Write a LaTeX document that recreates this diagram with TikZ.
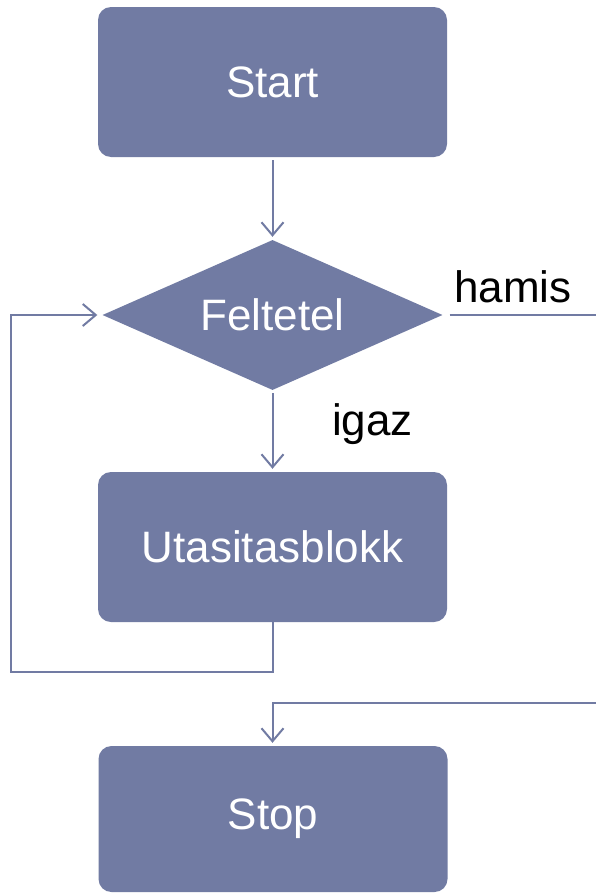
\documentclass[tikz,border=0pt]{standalone}
\usepackage{fontspec}
\setmainfont{Liberation Sans}
\usetikzlibrary{arrows.meta,shapes.geometric}
\definecolor{slate}{RGB}{113,123,163}
\begin{document}
\begin{tikzpicture}[x=1pt,y=-1pt,
  box/.style={rectangle,rounded corners=13pt,fill=slate,text=white,
    minimum width=349pt,minimum height=150pt,inner sep=0pt,
    font=\fontsize{44}{50}\selectfont},
  decision/.style={diamond,aspect=2.267,fill=slate,text=white,inner sep=0pt,
    minimum width=340pt,minimum height=150pt,
    font=\fontsize{44}{50}\selectfont},
  link/.style={draw=slate,line width=2pt},
  flow/.style={link,-{Straight Barb[length=13pt,width=22pt,line width=2pt]}},
  lbl/.style={anchor=base west,inner sep=0pt,text=black,
    font=\fontsize{44}{50}\selectfont}]
  \clip (0,0) rectangle (596,894);
  \fill[white] (0,0) rectangle (596,894);

  % blocks of the flow chart
  \node[box] (start) at (272.5,82) {Start};
  \node[decision] (cond) at (272.5,315) {Feltetel};
  \node[box] (body) at (272.5,547) {Utasitasblokk};
  \node[box,minimum height=146pt] (stop) at (273,819) {Stop};

  % labels of the branches
  \node[lbl] (false) at (454,302) {hamis};
  \node[lbl] (true) at (332,435) {igaz};

  % turning points of the connectors
  \coordinate (loopA) at (272.5,672);
  \coordinate (loopB) at (11,672);
  \coordinate (loopC) at (11,315);
  \coordinate (outA) at (600,315);
  \coordinate (outB) at (600,703);
  \coordinate (outC) at (272.5,703);

  % connectors
  \draw[flow,shorten <=3pt,shorten >=3pt] (start.south) -- (cond.north);
  \draw[flow,shorten <=3pt,shorten >=3pt] (cond.south) -- (body.north);
  \draw[flow,shorten >=5pt] ([yshift=3pt]body.south) -- (loopA) -- (loopB)
    -- (loopC) -- (cond.west);
  \draw[flow,shorten >=3pt] ([xshift=7pt]cond.east) -- (outA) -- (outB)
    -- (outC) -- (outC |- stop.north);
\end{tikzpicture}
\end{document}
